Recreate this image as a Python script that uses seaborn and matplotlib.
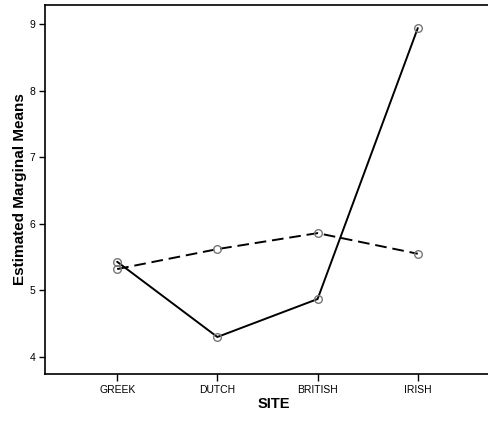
import matplotlib
matplotlib.use("Agg")
import matplotlib.pyplot as plt
import seaborn as sns
import pandas as pd

sites = ["GREEK", "DUTCH", "BRITISH", "IRISH"]
solid_means = [5.43, 4.30, 4.87, 8.94]
dashed_means = [5.32, 5.62, 5.86, 5.55]
y_ticks = [4, 5, 6, 7, 8, 9]

df = pd.DataFrame({
    "SITE": sites * 2,
    "mean": solid_means + dashed_means,
    "group": ["a"] * 4 + ["b"] * 4,
})
df["x"] = df["SITE"].map({s: i for i, s in enumerate(sites)})

sns.set_style("white")
plt.rcParams["font.family"] = ["Liberation Sans", "DejaVu Sans"]
plt.rcParams["text.color"] = "black"
plt.rcParams["axes.labelcolor"] = "black"
plt.rcParams["xtick.color"] = "black"
plt.rcParams["ytick.color"] = "black"

fig = plt.figure(figsize=(4.88, 4.25), dpi=100)
ax = fig.add_axes([0.0922, 0.12, 0.9385, 0.868])

for g, ls in [("a", "-"), ("b", (0, (6, 3)))]:
    sub = df[df["group"] == g]
    sns.lineplot(data=sub, x="x", y="mean", ax=ax, color="black",
                 linewidth=1.4, linestyle=ls, marker="o", markersize=5.5,
                 markerfacecolor="none", markeredgecolor="#777777",
                 markeredgewidth=1.0, legend=False)

ax.set_xlim(-0.72, 3.85)
ax.set_ylim(3.744, 9.285)
ax.set_xticks(range(len(sites)))
ax.set_xticklabels(sites, fontsize=7.5)
ax.set_yticks(y_ticks)
ax.set_yticklabels([str(t) for t in y_ticks], fontsize=7.5)
ax.tick_params(axis="x", direction="out", length=5, width=1, pad=3,
               bottom=True)
ax.tick_params(axis="y", direction="out", length=4, width=1, pad=3,
               left=True)
ax.set_xlabel("SITE", fontsize=10.5, fontweight="bold", labelpad=1)
ax.set_ylabel("Estimated Marginal Means", fontsize=11, fontweight="bold", labelpad=1.5)
for s in ["left", "bottom", "top"]:
    ax.spines[s].set_color("black")
    ax.spines[s].set_linewidth(1.2)
ax.spines["right"].set_visible(False)

fig.savefig("out.png", dpi=100, facecolor="white")
